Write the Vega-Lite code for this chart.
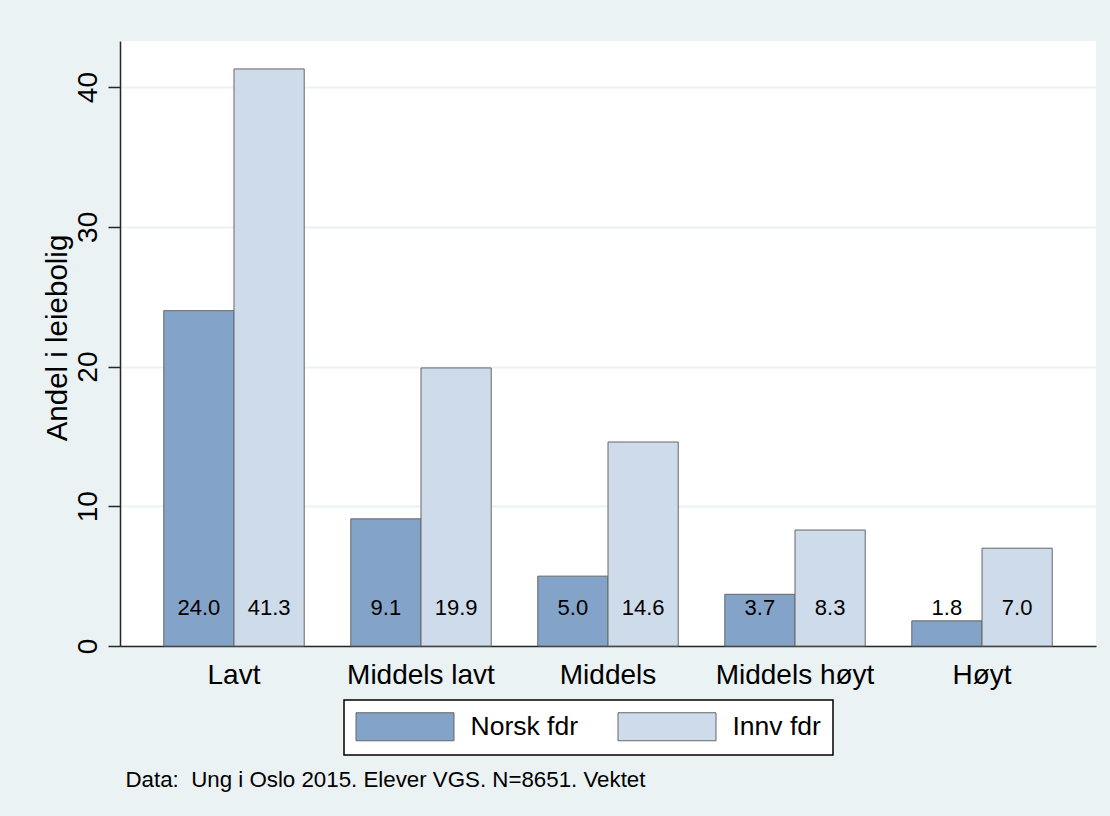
{
  "$schema": "https://vega.github.io/schema/vega-lite/v6.json",
  "width": 976,
  "height": 605,
  "autosize": {"type": "none"},
  "padding": {"left": 120, "top": 41, "right": 14, "bottom": 170},
  "background": "#EAF2F3",
  "config": {"view": {"fill": "white", "stroke": null}, "font": "Liberation Sans"},
  "data": {
    "values": [
      {"inntekt": "Lavt", "gruppe": "Norsk fdr", "andel": 24.0},
      {"inntekt": "Lavt", "gruppe": "Innv fdr", "andel": 41.3},
      {"inntekt": "Middels lavt", "gruppe": "Norsk fdr", "andel": 9.1},
      {"inntekt": "Middels lavt", "gruppe": "Innv fdr", "andel": 19.9},
      {"inntekt": "Middels", "gruppe": "Norsk fdr", "andel": 5.0},
      {"inntekt": "Middels", "gruppe": "Innv fdr", "andel": 14.6},
      {"inntekt": "Middels høyt", "gruppe": "Norsk fdr", "andel": 3.7},
      {"inntekt": "Middels høyt", "gruppe": "Innv fdr", "andel": 8.3},
      {"inntekt": "Høyt", "gruppe": "Norsk fdr", "andel": 1.8},
      {"inntekt": "Høyt", "gruppe": "Innv fdr", "andel": 7.0}
    ]
  },
  "layer": [
    {
      "mark": {"type": "bar", "stroke": "#666666", "strokeWidth": 1},
      "encoding": {
        "x": {
          "field": "inntekt",
          "type": "nominal",
          "sort": ["Lavt", "Middels lavt", "Middels", "Middels høyt", "Høyt"],
          "scale": {"paddingInner": 0.249, "paddingOuter": 0.234},
          "axis": {
            "title": "Data:\u00a0 Ung i Oslo 2015. Elever VGS. N=8651. Vektet",
            "titleX": 5,
            "titleY": 140,
            "titleAlign": "left",
            "titleBaseline": "alphabetic",
            "titleFontSize": 22.3,
            "titleFontWeight": "normal",
            "titleColor": "black",
            "titleLimit": 0,
            "labelAngle": 0,
            "labelFontSize": 28,
            "labelColor": "black",
            "labelBaseline": "alphabetic",
            "labelPadding": 37.6,
            "ticks": false,
            "tickSize": 0,
            "domainColor": "#262626",
            "domainWidth": 1.5,
            "labelLimit": 0
          }
        },
        "xOffset": {
          "field": "gruppe",
          "sort": ["Norsk fdr", "Innv fdr"],
          "scale": {"paddingInner": 0, "paddingOuter": 0}
        },
        "y": {
          "field": "andel",
          "type": "quantitative",
          "scale": {"domain": [0, 43.3], "nice": false, "zero": true},
          "axis": {
            "title": "Andel i leiebolig",
            "values": [0, 10, 20, 30, 40],
            "grid": true,
            "gridColor": "#EAF2F3",
            "gridWidth": 2,
            "labelAngle": 270,
            "labelAlign": "center",
            "labelBaseline": "alphabetic",
            "labelPadding": 12,
            "labelFontSize": 28,
            "labelColor": "black",
            "tickSize": 12,
            "tickColor": "#262626",
            "tickWidth": 1.5,
            "domainColor": "#262626",
            "domainWidth": 1.5,
            "titleFontSize": 29.5,
            "titleFontWeight": "normal",
            "titleColor": "black",
            "titleAngle": 270,
            "titleX": -54,
            "titleY": 296.5,
            "titleAlign": "center",
            "titleBaseline": "alphabetic"
          }
        },
        "color": {
          "field": "gruppe",
          "type": "nominal",
          "scale": {"domain": ["Norsk fdr", "Innv fdr"], "range": ["#84A3C9", "#CEDBEA"]},
          "legend": {
            "title": null,
            "orient": "none",
            "legendX": 224,
            "legendY": 659,
            "direction": "horizontal",
            "columnPadding": 38,
            "padding": 12,
            "symbolOffset": 34.5,
            "labelOffset": 51,
            "strokeColor": "black",
            "fillColor": "white",
            "symbolType": "M-3.5,-1L3.5,-1L3.5,1L-3.5,1Z",
            "symbolSize": 784,
            "symbolStrokeColor": "#666666",
            "symbolStrokeWidth": 1,
            "symbolOpacity": 1,
            "labelFontSize": 26.5,
            "labelFont": "Liberation Sans",
            "labelColor": "black",
            "labelLimit": 0,
            "encode": {"legend": {"update": {"strokeWidth": {"value": 1.5}}}}
          }
        }
      }
    },
    {
      "mark": {"type": "text", "fontSize": 22, "baseline": "alphabetic", "align": "center", "color": "black"},
      "encoding": {
        "x": {"field": "inntekt", "type": "nominal", "sort": ["Lavt", "Middels lavt", "Middels", "Middels høyt", "Høyt"]},
        "xOffset": {"field": "gruppe", "sort": ["Norsk fdr", "Innv fdr"]},
        "y": {"datum": 2.2},
        "text": {"field": "andel", "type": "quantitative", "format": ".1f"}
      }
    }
  ]
}
